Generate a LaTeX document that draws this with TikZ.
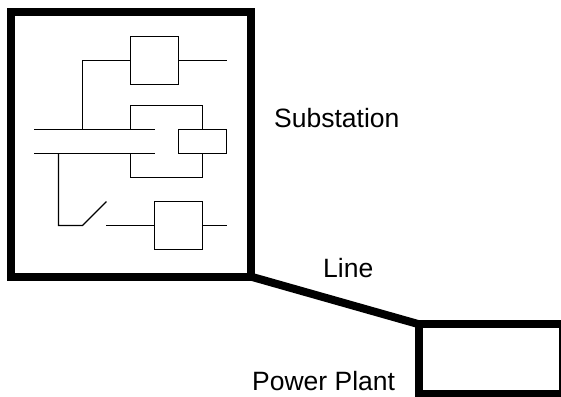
\documentclass[tikz,border=0pt]{standalone}
\usepackage{fontspec}
\setmainfont{Liberation Sans}
\usetikzlibrary{positioning}

\begin{document}
\begin{tikzpicture}[
  x=1pt, y=-1pt,
  heavy/.style={draw, line width=8pt, inner sep=0pt, outer sep=0pt},
  unit/.style={draw, line width=1.2pt, inner sep=0pt, outer sep=0pt, minimum width=48pt, minimum height=48pt},
  wire/.style={line width=1.2pt, line join=miter},
  lbl/.style={anchor=base west, inner sep=0pt, font=\fontsize{26.5}{30}\selectfont}]
\useasboundingbox (0,0) rectangle (561,396);
\clip (0,0) rectangle (561,396);
\node[heavy, minimum width=240pt, minimum height=264pt] (sub) at (130.5,144.5) {};
\node[heavy, minimum width=144.5pt, minimum height=70pt] (plant) at (491,359.2) {};
\draw[line width=8pt] (sub.south east) -- (plant.north west);
\node[lbl] (lsub) at (274,127) {Substation};
\node[lbl] (lline) at (323,277) {Line};
\node[lbl] (lplant) at (252,390) {Power Plant};
% breakers
\node[unit] (b1) at (154.5,60.5) {};
\node[unit, minimum height=24pt] (b2) at (202.5,141.5) {};
\node[unit] (b3) at (178.5,225.5) {};
% bus bars
\coordinate (busa) at (34,129.5);
\coordinate (busb) at (34,153.5);
\coordinate (busae) at (155,129.5);
\coordinate (busbe) at (155,153.5);
\draw[wire] (busa) -- (busae);
\draw[wire] (busb) -- (busbe);
% upper feeder
\coordinate (tapa) at (82.5,129.5);
\coordinate (outa) at (227,60.5);
\draw[wire] (tapa) |- (b1.west);
\draw[wire] (b1.east) -- (outa);
% coupler loops
\coordinate (la) at (130.5,129.5);
\coordinate (lb) at (130.5,153.5);
\coordinate (ra) at (202.5,129.5);
\coordinate (rb) at (202.5,153.5);
\draw[wire] (la) -- (130.5,105.5) -| (ra);
\draw[wire] (lb) -- (130.5,177.5) -| (rb);
% lower feeder with open switch
\coordinate (tapb) at (58.5,153.5);
\coordinate (swa) at (82.5,225.5);
\coordinate (swb) at (106.5,201.5);
\coordinate (swc) at (106,225.5);
\coordinate (outb) at (227,225.5);
\draw[wire] (tapb) |- (swa) -- (swb);
\draw[wire] (swc) -- (b3.west);
\draw[wire] (b3.east) -- (outb);
\end{tikzpicture}
\end{document}
